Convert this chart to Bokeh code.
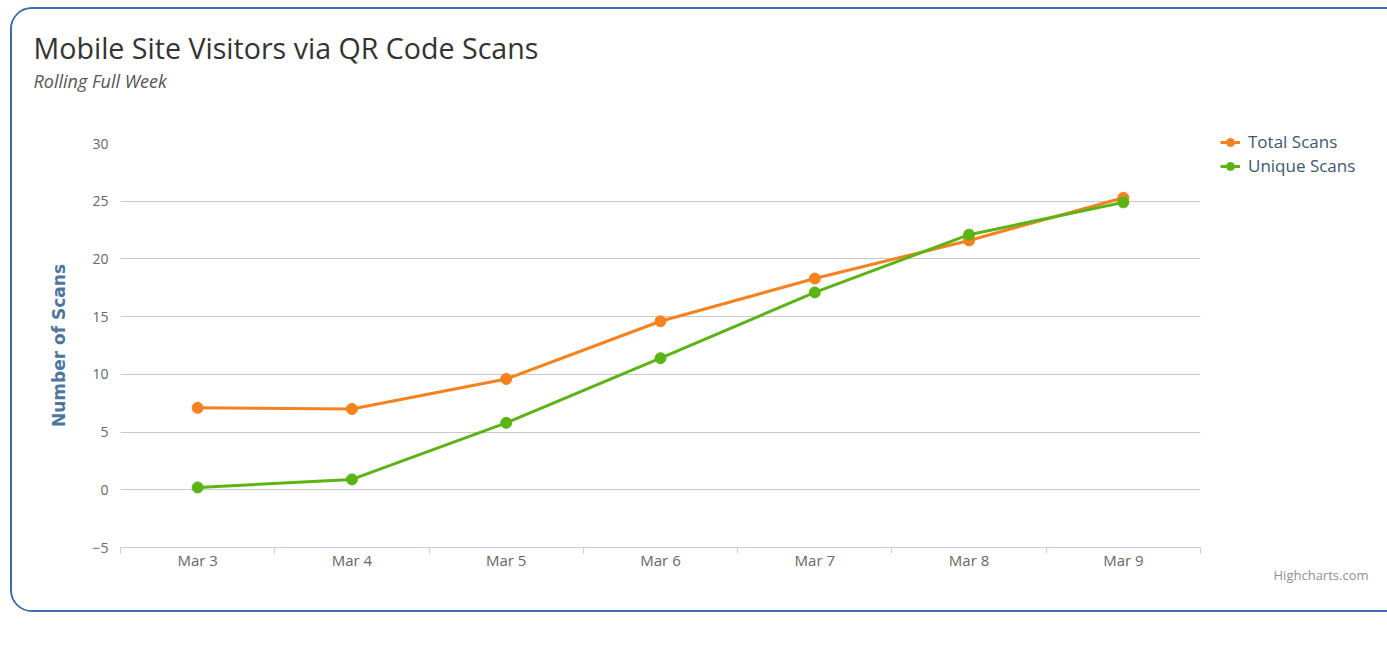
from bokeh.plotting import figure
from bokeh.models import (Range1d, FixedTicker, Legend, LegendItem, Title,
                          ColumnDataSource)
from bokeh.embed import file_html
from bokeh.resources import INLINE

# ---- data ----
dates = ["Mar 3", "Mar 4", "Mar 5", "Mar 6", "Mar 7", "Mar 8", "Mar 9"]
total_scans = [7.1, 7.0, 9.6, 14.6, 18.3, 21.6, 25.3]
unique_scans = [0.2, 0.9, 5.8, 11.4, 17.1, 22.1, 24.9]
y_ticks = [-5, 0, 5, 10, 15, 20, 25, 30]

ORANGE = "#F5821F"
GREEN = "#5CB315"
FONT = "Open Sans"


def setp(obj, **kw):
    props = obj.properties()
    for k, v in kw.items():
        if k in props:
            setattr(obj, k, v)


idx = list(range(len(dates)))
src = ColumnDataSource(dict(x=idx, total=total_scans, unique=unique_scans))

p = figure(frame_width=1080, frame_height=404, output_backend="svg",
           toolbar_location=None,
           x_range=Range1d(-0.5, len(dates) - 0.5), y_range=Range1d(-5, 30),
           min_border_left=108, min_border_right=183, min_border_top=134,
           min_border_bottom=63)
p.styles = {"border": "2px solid #3F6CAB", "border-radius": "22px",
            "overflow": "hidden", "margin-left": "10px", "margin-top": "7px"}
p.background_fill_color = "white"
p.border_fill_color = "white"
p.outline_line_color = None

# x axis
p.xaxis.ticker = FixedTicker(ticks=idx, minor_ticks=[i - 0.5 for i in range(len(dates) + 1)])
p.xaxis.major_label_overrides = {i: d for i, d in enumerate(dates)}
p.xaxis.axis_line_color = "#C0D0E0"
p.xaxis.axis_line_width = 1
p.xaxis.major_tick_line_color = None
p.xaxis.major_tick_out = 0
p.xaxis.major_tick_in = 0
p.xaxis.minor_tick_line_color = "#C0D0E0"
p.xaxis.minor_tick_in = 0
p.xaxis.minor_tick_out = 6
p.xaxis.major_label_text_font = FONT
p.xaxis.major_label_text_font_size = "15px"
p.xaxis.major_label_text_color = "#666666"
p.xaxis.major_label_standoff = -4
p.xgrid.grid_line_color = None

# y axis
p.yaxis.ticker = FixedTicker(ticks=y_ticks)
p.yaxis.axis_line_color = None
p.yaxis.major_tick_line_color = None
p.yaxis.major_tick_out = 0
p.yaxis.major_tick_in = 0
p.yaxis.minor_tick_line_color = None
p.yaxis.minor_tick_out = 0
p.yaxis.minor_tick_in = 0
p.yaxis.major_label_text_font = FONT
p.yaxis.major_label_text_font_size = "14px"
p.yaxis.major_label_text_color = "#666666"
p.yaxis.major_label_standoff = 12
p.yaxis.axis_label = "Number of Scans"
p.yaxis.axis_label_text_font = "DejaVu Sans"
p.yaxis.axis_label_text_font_style = "bold"
p.yaxis.axis_label_text_font_size = "17px"
p.yaxis.axis_label_text_color = "#4D759E"
p.yaxis.axis_label_standoff = 20
p.ygrid.grid_line_color = "#C8C8C8"
p.ygrid.grid_line_width = 1

# series
l1 = p.line("x", "total", source=src, line_color=ORANGE, line_width=3)
m1 = p.scatter("x", "total", source=src, size=11, fill_color=ORANGE, line_color=ORANGE)
l2 = p.line("x", "unique", source=src, line_color=GREEN, line_width=3)
m2 = p.scatter("x", "unique", source=src, size=11, fill_color=GREEN, line_color=GREEN)

legend = Legend(items=[LegendItem(label="Total Scans", renderers=[l1, m1]),
                       LegendItem(label="Unique Scans", renderers=[l2, m2])],
                location=(20, 370))
legend.padding = 0
legend.margin = 0
legend.spacing = 1
legend.border_line_color = None
legend.background_fill_alpha = 0
legend.label_text_font = FONT
legend.label_text_font_size = "17px"
legend.label_text_color = "#3E576F"
legend.glyph_width = 20
legend.label_height = 20
legend.glyph_height = 20
legend.label_standoff = 8
p.add_layout(legend, "right")

# titles (nearest-to-frame first) and credit
spacer = Title(text=" ", text_font=FONT, text_font_size="36px")
sub = Title(text="Rolling Full Week", text_font=FONT, text_font_style="italic",
            text_font_size="18px", text_color="#555555", align="left", offset=-87)
main = Title(text="Mobile Site Visitors via QR Code Scans", text_font=FONT,
             text_font_style="normal", text_font_size="28.6px",
             text_color="#333333", align="left", offset=-87)
credit = Title(text="Highcharts.com", text_font=FONT, text_font_style="normal",
               text_font_size="13px", text_color="#909090", align="right",
               offset=-168)
for t in (spacer, sub, main):
    setp(t, standoff=0)
setp(credit, standoff=-18)
p.add_layout(spacer, "above")
p.add_layout(sub, "above")
p.add_layout(main, "above")
p.add_layout(credit, "below")

open("out.html", "w").write(file_html(p, INLINE))
